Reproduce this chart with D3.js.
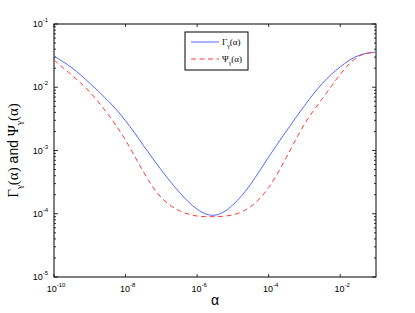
<!DOCTYPE html>
<html>
<head>
<meta charset="utf-8">
<script src="https://d3js.org/d3.v7.min.js"></script>
<style>
  body { margin: 0; background: #fff; }
  svg { display: block; }
</style>
</head>
<body>
<div id="chart"></div>
<script>
// log10(alpha) sample positions
const logAlpha = [-10, -9.5, -9, -8.5, -8, -7.5, -7, -6.5, -6, -5.5, -5, -4.5, -4, -3.5, -3, -2.5, -2, -1.5, -1]
const gammaVals = [3.1e-2, 2.03e-2, 1.16e-2, 6.2e-3, 2.95e-3, 1.2e-3, 4.9e-4, 2.2e-4, 1.18e-4, 9.5e-5, 1.38e-4, 2.95e-4, 7.9e-4, 2.05e-3, 5.1e-3, 1.15e-2, 2.1e-2, 3.15e-2, 3.6e-2]
const psiVals   = [2.7e-2, 1.55e-2, 8.4e-3, 3.8e-3, 1.45e-3, 4.6e-4, 1.8e-4, 1.12e-4, 9.2e-5, 9.0e-5, 9.6e-5, 1.3e-4, 2.6e-4, 7.9e-4, 2.6e-3, 6.6e-3, 1.6e-2, 3.05e-2, 3.6e-2]
const xTickExps = [-10, -8, -6, -4, -2]
const yTickExps = [-5, -4, -3, -2, -1]
const legendLabels = ["Γ", "Ψ"]

const W = 415, H = 313
const margin = { top: 24, right: 39, bottom: 36, left: 54 }

const svg = d3.select("#chart").append("svg")
  .attr("width", W)
  .attr("height", H)

const x = d3.scaleLog()
  .domain([1e-10, 1e-1])
  .range([margin.left, W - margin.right])

const y = d3.scaleLog()
  .domain([1e-5, 1e-1])
  .range([H - margin.bottom, margin.top])

const x0 = x.range()[0], x1 = x.range()[1]
const y0 = y.range()[0], y1 = y.range()[1]

// minor ticks on y (2..9 x 10^k)
const minorY = []
for (let e = -5; e < -1; e++) {
  for (let k = 2; k <= 9; k++) minorY.push(k * Math.pow(10, e))
}

const ticks = svg.append("g").attr("stroke", "#000").attr("stroke-width", 0.8)

minorY.forEach(v => {
  ticks.append("line").attr("x1", x0).attr("x2", x0 + 2).attr("y1", y(v)).attr("y2", y(v))
  ticks.append("line").attr("x1", x1).attr("x2", x1 - 2).attr("y1", y(v)).attr("y2", y(v))
})
yTickExps.forEach(e => {
  const v = Math.pow(10, e)
  ticks.append("line").attr("x1", x0).attr("x2", x0 + 4).attr("y1", y(v)).attr("y2", y(v))
  ticks.append("line").attr("x1", x1).attr("x2", x1 - 4).attr("y1", y(v)).attr("y2", y(v))
})
xTickExps.forEach(e => {
  const v = Math.pow(10, e)
  ticks.append("line").attr("x1", x(v)).attr("x2", x(v)).attr("y1", y0).attr("y2", y0 - 3)
  ticks.append("line").attr("x1", x(v)).attr("x2", x(v)).attr("y1", y1).attr("y2", y1 + 3)
})

// box
svg.append("rect")
  .attr("x", x0).attr("y", y1)
  .attr("width", x1 - x0).attr("height", y0 - y1)
  .attr("fill", "none").attr("stroke", "#000").attr("stroke-width", 1)

// tick labels
const labelFont = "Liberation Sans, Arial, sans-serif"
const greekFont = "Liberation Serif, serif"
yTickExps.forEach(e => {
  const t = svg.append("text")
    .attr("x", x0 - 6).attr("y", y(Math.pow(10, e)) + 3)
    .attr("text-anchor", "end")
    .attr("font-family", labelFont).attr("font-size", 9).attr("fill", "#000")
  t.append("tspan").text("10")
  t.append("tspan").attr("dy", -5).attr("font-size", 6).text(e)
})
xTickExps.forEach(e => {
  const t = svg.append("text")
    .attr("x", x(Math.pow(10, e)) + 2).attr("y", y0 + 15)
    .attr("text-anchor", "middle")
    .attr("font-family", labelFont).attr("font-size", 9).attr("fill", "#000")
  t.append("tspan").text("10")
  t.append("tspan").attr("dy", -5).attr("font-size", 6).text(e)
})

// axis labels
svg.append("text")
  .attr("x", (x0 + x1) / 2).attr("y", 305)
  .attr("text-anchor", "middle")
  .attr("font-family", labelFont).attr("font-size", 14)
  .text("α")

const yl = svg.append("text")
  .attr("transform", `translate(18,${(y0 + y1) / 2}) rotate(-90)`)
  .attr("text-anchor", "middle")
  .attr("font-family", greekFont).attr("font-size", 15)
yl.append("tspan").text("Γ")
yl.append("tspan").attr("dy", 4).attr("font-size", 9).text("γ")
yl.append("tspan").attr("dy", -4).text("(α)")
yl.append("tspan").attr("font-family", labelFont).attr("font-size", 14).text(" and  ")
yl.append("tspan").text("Ψ")
yl.append("tspan").attr("dy", 4).attr("font-size", 9).text("γ")
yl.append("tspan").attr("dy", -4).text("(α)")

// curves
const line = d3.line()
  .x((d, i) => x(Math.pow(10, logAlpha[i])))
  .y(d => y(d))
  .curve(d3.curveNatural)

svg.append("path")
  .datum(gammaVals)
  .attr("d", line)
  .attr("fill", "none")
  .attr("stroke", "#5468ff")
  .attr("stroke-width", 1)

svg.append("path")
  .datum(psiVals)
  .attr("d", line)
  .attr("fill", "none")
  .attr("stroke", "#ff3b3b")
  .attr("stroke-width", 1)
  .attr("stroke-dasharray", "5,3.5")

// legend
const lg = svg.append("g").attr("transform", "translate(185,32)")
lg.append("rect")
  .attr("width", 63).attr("height", 38)
  .attr("fill", "#fff").attr("stroke", "#000").attr("stroke-width", 1)

const legendStyles = [
  { stroke: "#5468ff", dash: null },
  { stroke: "#ff3b3b", dash: "5,3.5" }
]
legendLabels.forEach((lab, i) => {
  const ly = 10 + i * 17
  lg.append("line")
    .attr("x1", 6).attr("x2", 34).attr("y1", ly).attr("y2", ly)
    .attr("stroke", legendStyles[i].stroke).attr("stroke-width", 1)
    .attr("stroke-dasharray", legendStyles[i].dash)
  const t = lg.append("text")
    .attr("x", 37).attr("y", ly + 3)
    .attr("font-family", greekFont).attr("font-size", 9)
  t.append("tspan").text(lab)
  t.append("tspan").attr("dy", 3).attr("font-size", 6).text("γ")
  t.append("tspan").attr("dy", -3).text("(α)")
})
</script>
</body>
</html>
